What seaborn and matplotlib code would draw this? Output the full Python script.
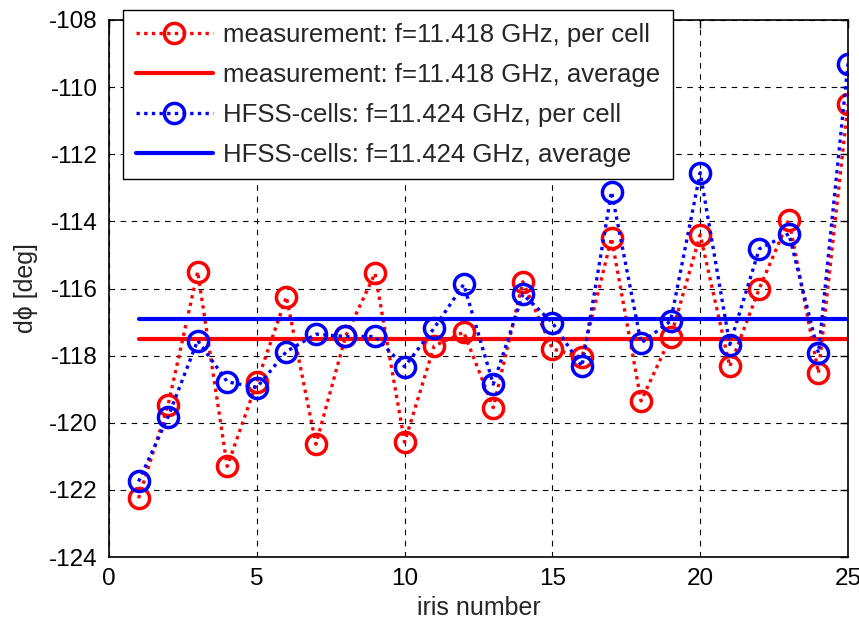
import numpy as np
import pandas as pd
import matplotlib
matplotlib.use("Agg")
import matplotlib.pyplot as plt
import seaborn as sns

# ---- data ----
iris = list(range(1, 26))
meas_per_cell = [-122.25, -119.47, -115.50, -121.30, -118.80, -116.25, -120.64, -117.43,
                 -115.55, -120.58, -117.71, -117.30, -119.55, -115.80, -117.80, -118.05,
                 -114.50, -119.35, -117.45, -114.40, -118.32, -116.00, -113.95, -118.52,
                 -110.50]
hfss_per_cell = [-121.75, -119.82, -117.55, -118.78, -118.95, -117.88, -117.36, -117.43,
                 -117.43, -118.33, -117.18, -115.88, -118.85, -116.17, -117.02, -118.32,
                 -113.12, -117.62, -116.97, -112.55, -117.67, -114.82, -114.37, -117.92,
                 -109.30]
meas_avg = -117.49
hfss_avg = -116.92
labels = ["measurement: f=11.418 GHz, per cell",
          "measurement: f=11.418 GHz, average",
          "HFSS-cells: f=11.424 GHz, per cell",
          "HFSS-cells: f=11.424 GHz, average"]
xticks = [0, 5, 10, 15, 20, 25]
yticks = [-124, -122, -120, -118, -116, -114, -112, -110, -108]

sns.set_style("white")
plt.rcParams['font.family'] = ['Liberation Sans', 'DejaVu Sans']
plt.rcParams['axes.unicode_minus'] = False

fig = plt.figure(figsize=(8.59, 6.32), dpi=100)
ax = fig.add_axes([109/859, 1-557/632, (848-109)/859, (557-20)/632])

dot = (0, (1.0, 1.3))
mk = dict(marker='o', markersize=14.5, markerfacecolor='none', markeredgewidth=2.5)

df_m = pd.DataFrame({"x": iris, "y": meas_per_cell})
df_h = pd.DataFrame({"x": iris, "y": hfss_per_cell})
df_ma = pd.DataFrame({"x": [iris[0], iris[-1]], "y": [meas_avg, meas_avg]})
df_ha = pd.DataFrame({"x": [iris[0], iris[-1]], "y": [hfss_avg, hfss_avg]})

sns.lineplot(data=df_m, x="x", y="y", ax=ax, color='#ff0000', linestyle=dot, lw=2.4,
             markeredgecolor='#ff0000', label=labels[0], **mk)
sns.lineplot(data=df_ma, x="x", y="y", ax=ax, color='#ff0000', lw=3, label=labels[1])
sns.lineplot(data=df_h, x="x", y="y", ax=ax, color='#0000ff', linestyle=dot, lw=2.4,
             markeredgecolor='#0000ff', label=labels[2], **mk)
sns.lineplot(data=df_ha, x="x", y="y", ax=ax, color='#0000ff', lw=3, label=labels[3])

ax.set_xlim(0, 25)
ax.set_ylim(-124, -108)
ax.set_xticks(xticks)
ax.set_yticks(yticks)
ax.tick_params(direction='in', length=6, width=1, top=True, right=True,
               labelsize=17.5, colors='black', pad=8)
ax.grid(True, color='black', linestyle=(0, (5, 5)), linewidth=0.8)
for s in ax.spines.values():
    s.set_color('black')
    s.set_linewidth(1.2)
    s.set_visible(True)

ax.set_xlabel("iris number", fontsize=18, labelpad=4)
ax.set_ylabel("d\u03d5 [deg]", fontsize=18, labelpad=8)

leg = ax.legend(loc='upper left', bbox_to_anchor=(123/859, 1-10/632),
                bbox_transform=fig.transFigure, borderaxespad=0, fontsize=18.5,
                fancybox=False, framealpha=1, edgecolor='black', handlelength=3.0,
                handletextpad=0.4, labelspacing=0.62, borderpad=0.5)
leg.get_frame().set_linewidth(1.0)
leg.set_zorder(10)

fig.savefig("out.png", dpi=100)
